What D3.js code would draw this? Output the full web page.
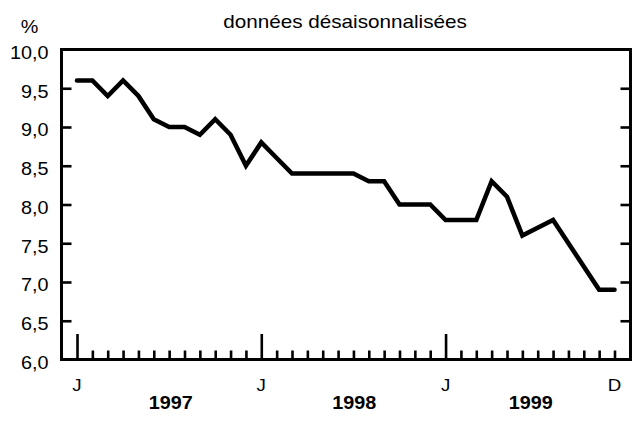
<!DOCTYPE html>
<html>
<head>
<meta charset="utf-8">
<script src="https://cdn.jsdelivr.net/npm/d3@7"></script>
<style>
  html, body { margin: 0; padding: 0; background: #fff; }
  svg { display: block; }
  text { font-family: "Liberation Sans", Arial, sans-serif; fill: #000; }
</style>
</head>
<body>
<svg id="chart" width="632" height="425"></svg>
<script>
// ---- data ----
const title = "données désaisonnalisées";
const unitLabel = "%";
// monthly values, Jan 1997 .. Dec 1999 (month index 0..35)
const monthIndex = d3.range(36);
const rate = [
  9.6, 9.6, 9.4, 9.6, 9.4, 9.1, 9.0, 9.0, 8.9, 9.1, 8.9, 8.5,
  8.8, 8.6, 8.4, 8.4, 8.4, 8.4, 8.4, 8.3, 8.3, 8.0, 8.0, 8.0,
  7.8, 7.8, 7.8, 8.3, 8.1, 7.6, 7.7, 7.8, 7.5, 7.2, 6.9, 6.9
];
const yTickValues = [6.0, 6.5, 7.0, 7.5, 8.0, 8.5, 9.0, 9.5, 10.0];
const yTickLabels = ["6,0", "6,5", "7,0", "7,5", "8,0", "8,5", "9,0", "9,5", "10,0"];
const monthLabelPos = [0, 12, 24, 35];
const monthLabels = ["J", "J", "J", "D"];
const majorTickPos = [0, 12, 24];
const years = ["1997", "1998", "1999"];
const yearLabelPos = [6.1, 6.05, 5.55];

// ---- layout ----
const svg = d3.select("#chart");
const frame = { left: 61.5, right: 630.5, top: 49.5, bottom: 359.5 };

const x = d3.scaleLinear().domain([0, 35]).range([77, 614.5]);
const y = d3.scaleLinear().domain([6, 10]).range([frame.bottom, frame.top]);

// title
svg.append("text")
  .attr("transform", `translate(345,27.5) scale(1.15,1)`)
  .attr("text-anchor", "middle")
  .style("font-size", "18px")
  .text(title);

// unit
svg.append("text")
  .attr("transform", `translate(29.5,33) scale(1.1,1)`)
  .attr("text-anchor", "middle")
  .style("font-size", "18px")
  .text(unitLabel);

// y ticks (inside, left and right)
const innerY = yTickValues.filter(v => v > 6 && v < 10);
const yAxisL = svg.append("g")
  .attr("transform", `translate(${frame.left},0)`)
  .call(d3.axisRight(y).tickValues(innerY).tickSize(10).tickFormat(""));
const yAxisR = svg.append("g")
  .attr("transform", `translate(${frame.right},0)`)
  .call(d3.axisLeft(y).tickValues(innerY).tickSize(10).tickFormat(""));
[yAxisL, yAxisR].forEach(g => {
  g.select(".domain").remove();
  g.selectAll(".tick line").attr("stroke", "#000").attr("stroke-width", 2.6);
});

// y labels
svg.append("g").selectAll("text")
  .data(yTickValues)
  .join("text")
  .attr("transform", (d) => `translate(48.5,${y(d) + 9.3}) scale(1.1,1)`)
  .attr("text-anchor", "end")
  .style("font-size", "18px")
  .text((d, i) => yTickLabels[i]);

// x ticks: minor every month, major at January
const xMinor = svg.append("g")
  .attr("transform", `translate(0,${frame.bottom})`)
  .call(d3.axisTop(x).tickValues(monthIndex.filter(m => !majorTickPos.includes(m))).tickSize(9).tickFormat(""));
const xMajor = svg.append("g")
  .attr("transform", `translate(0,${frame.bottom})`)
  .call(d3.axisTop(x).tickValues(majorTickPos).tickSize(25.5).tickFormat(""));
[xMinor, xMajor].forEach(g => {
  g.select(".domain").remove();
  g.selectAll(".tick line").attr("stroke", "#000").attr("stroke-width", 2.6);
});

// month labels
svg.append("g").selectAll("text")
  .data(monthLabelPos)
  .join("text")
  .attr("transform", d => `translate(${x(d)},391) scale(1.1,1)`)
  .attr("text-anchor", "middle")
  .style("font-size", "17px")
  .text((d, i) => monthLabels[i]);

// year labels
svg.append("g").selectAll("text")
  .data(years)
  .join("text")
  .attr("transform", (d, i) => `translate(${x(12 * i + yearLabelPos[i])},409.3) scale(1.1,1)`)
  .attr("text-anchor", "middle")
  .style("font-size", "18px")
  .style("font-weight", "bold")
  .text(d => d);

// frame
svg.append("rect")
  .attr("x", frame.left).attr("y", frame.top)
  .attr("width", frame.right - frame.left)
  .attr("height", frame.bottom - frame.top)
  .attr("fill", "none").attr("stroke", "#000").attr("stroke-width", 3);

// line
const line = d3.line().x(d => x(d)).y((d, i) => y(rate[i]));
svg.append("path")
  .datum(monthIndex)
  .attr("d", line)
  .attr("fill", "none")
  .attr("stroke", "#000")
  .attr("stroke-width", 4.6)
  .attr("stroke-linecap", "round")
  .attr("stroke-linejoin", "miter");
</script>
</body>
</html>
